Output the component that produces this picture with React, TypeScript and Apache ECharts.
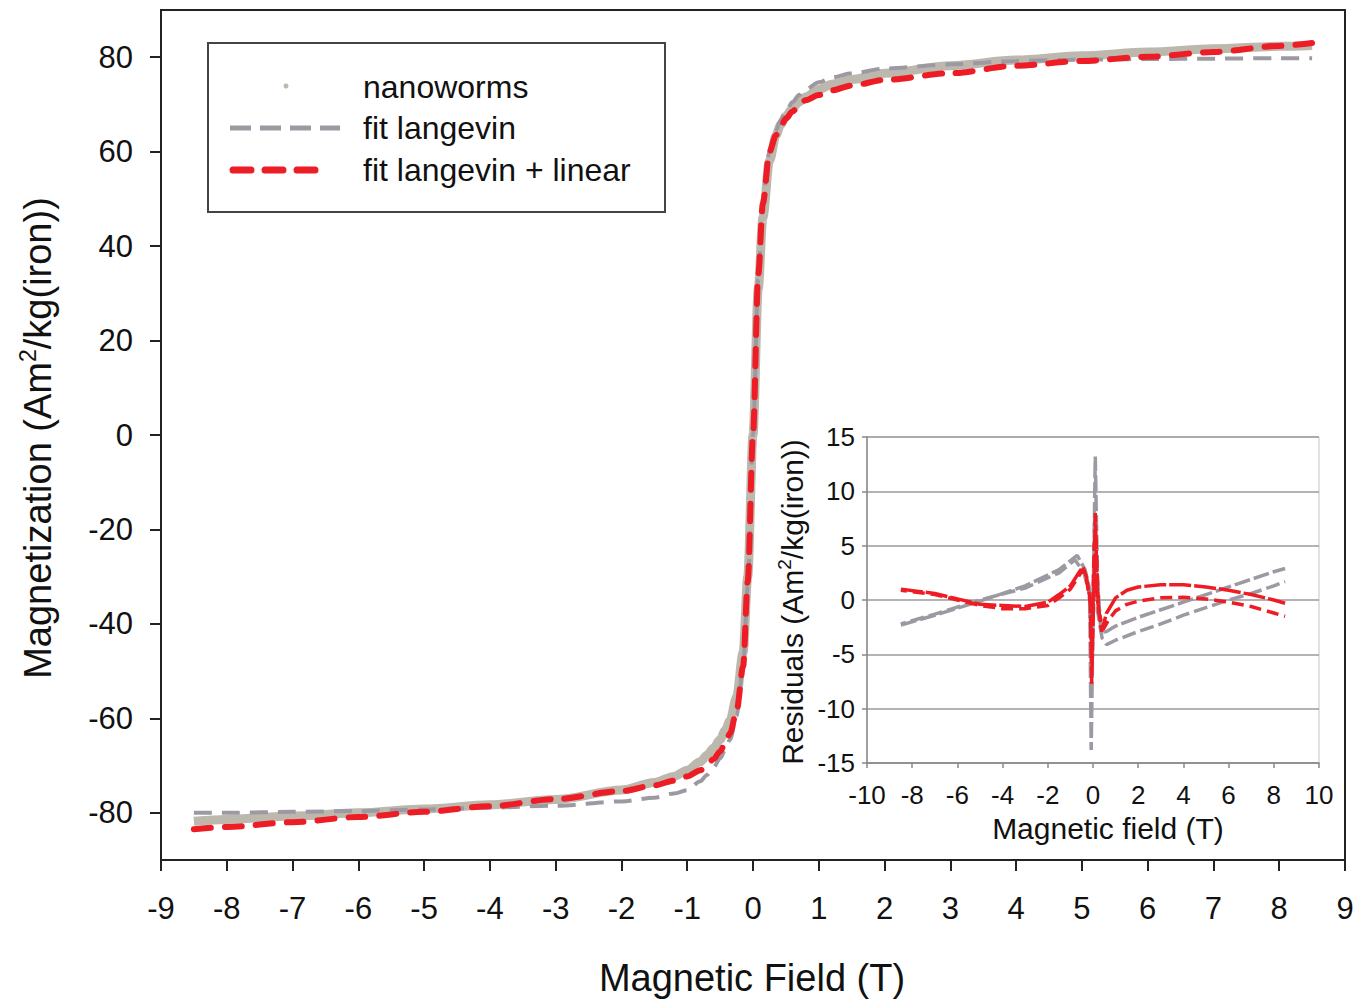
import React, { useEffect, useRef } from "react";
import * as echarts from "echarts";

// ---------- main chart data ----------
const fieldT = [-8.5, -8, -7, -6, -5, -4, -3, -2, -1.5, -1.2, -1, -0.8, -0.7, -0.6, -0.5, -0.42, -0.35, -0.25, -0.15, -0.08, 0, 0.08, 0.15, 0.25, 0.35, 0.42, 0.5, 0.6, 0.7, 0.8, 1, 1.2, 1.5, 2, 3, 4, 5, 6, 7, 8, 8.5];
const nanoworms = [-81.8, -81.4, -80.7, -80.0, -79.2, -78.3, -77.2, -75.2, -73.6, -72.3, -71.0, -69.2, -67.8, -66.3, -64.5, -62.5, -60.5, -55.5, -46, -30, 0, 31, 46, 58, 63.5, 65.7, 67.5, 69.2, 70.5, 71.6, 73.2, 74.3, 75.3, 76.6, 78.2, 79.4, 80.3, 81.1, 81.8, 82.3, 82.5];
const fitLangevin = [-80, -80, -79.8, -79.6, -79.3, -78.9, -78.5, -77.6, -76.8, -75.9, -75.2, -73.3, -72, -70.4, -68.5, -66.6, -64.5, -59.5, -49, -32, 0, 33, 50, 60, 64.5, 66.7, 68.5, 70.5, 72, 73.2, 74.7, 75.7, 76.6, 77.6, 78.5, 79.2, 79.5, 79.6, 79.7, 79.8, 79.8];
const fitLangevinLinear = [-83.5, -83, -82, -80.9, -79.8, -78.6, -77.1, -75.4, -74.2, -73.2, -72.3, -71, -70, -68.6, -67, -65.2, -63.2, -58.5, -49, -31, 0, 34, 49, 60, 63.5, 65.3, 67, 68.5, 69.8, 70.9, 72, 73, 74, 75.2, 76.6, 78.2, 79.2, 80.1, 81.1, 82.4, 83];

const mainYTicks = [-80, -60, -40, -20, 0, 20, 40, 60, 80];

// ---------- inset (residuals) data ----------
const resLangAX = [-8.5, -7, -5, -3, -1.5, -0.7, -0.35, -0.15, -0.08, 0.1, 0.2, 0.35, 0.6, 1, 2, 3, 4, 5, 6, 7, 8, 8.5];
const resLangAY = [-2.3, -1.4, -0.1, 1.3, 2.8, 4.1, 2.8, 1.0, -13.8, 13.2, 2.0, -3.0, -2.9, -2.4, -1.6, -0.9, -0.2, 0.5, 1.2, 1.9, 2.6, 2.9];
const resLangBX = [-8.5, -7, -5, -3, -1.5, -0.8, -0.4, -0.15, -0.05, 0.08, 0.2, 0.4, 0.6, 1, 2, 3, 4, 5, 6, 7, 8, 8.5];
const resLangBY = [-2.2, -1.3, 0.0, 1.1, 2.5, 3.7, 2.5, 0.5, -6, 8, -1, -3.5, -4.1, -3.7, -2.9, -2.2, -1.4, -0.7, 0.0, 0.6, 1.3, 1.7];
const resLinAX = [-8.5, -7, -6, -5, -4, -3, -2, -1.5, -1, -0.6, -0.45, -0.3, -0.12, -0.06, 0.05, 0.1, 0.2, 0.38, 0.6, 1, 1.5, 2, 3, 4, 5, 6, 7, 8, 8.5];
const resLinAY = [1.0, 0.6, 0.1, -0.4, -0.5, -0.6, -0.2, 0.5, 1.3, 2.6, 3.05, 2.2, 0, -7.7, 2, 8, 0, -2.9, -1.2, 0.2, 0.9, 1.2, 1.4, 1.4, 1.2, 0.9, 0.5, 0.0, -0.3];
const resLinBX = [-8.5, -7, -6, -5, -4, -3, -2, -1.5, -1, -0.6, -0.45, -0.3, -0.1, -0.05, 0.05, 0.12, 0.25, 0.45, 0.7, 1, 1.5, 2, 3, 4, 5, 6, 7, 8, 8.5];
const resLinBY = [0.9, 0.5, 0.0, -0.5, -0.8, -0.8, -0.5, 0.2, 1.0, 2.3, 2.8, 2.0, -0.5, -5, 5, 6, -1, -2.7, -1.8, -1.0, -0.4, -0.1, 0.2, 0.25, 0.1, -0.2, -0.6, -1.2, -1.5];

const zip = (xs: number[], ys: number[]) => xs.map((x, i) => [x, ys[i]]);

const FONT = "'Liberation Sans', Arial, Helvetica, sans-serif";
const TAN = "#bdb8ae";
const GRAY = "#9d99a2";
const RED = "#ee1c25";

export default function App() {
  const ref = useRef<HTMLDivElement>(null);
  useEffect(() => {
    if (!ref.current) return;
    const chart = echarts.init(ref.current, null, { renderer: "svg" });
    chart.setOption({
      animation: false,
      backgroundColor: "#ffffff",
      textStyle: { fontFamily: FONT },
      grid: [
        { left: 161, top: 10, width: 1184, height: 850, show: true, borderColor: "#222", borderWidth: 2, backgroundColor: "transparent" },
        { left: 867, top: 437, width: 452, height: 326, show: true, borderColor: "#c4c4c4", borderWidth: 1, backgroundColor: "#ffffff" },
      ],
      xAxis: [
        {
          type: "value", gridIndex: 0, min: -9, max: 9, interval: 1,
          axisLine: { show: true, onZero: false, lineStyle: { color: "#222", width: 2 } },
          axisTick: { show: true, inside: false, length: 11, lineStyle: { color: "#222", width: 2 } },
          axisLabel: { fontSize: 31, color: "#111", margin: 33, fontFamily: FONT },
          splitLine: { show: false },
        },
        {
          type: "value", gridIndex: 1, min: -10, max: 10, interval: 2,
          axisLine: { show: true, onZero: false, lineStyle: { color: "#888", width: 1.5 } },
          axisTick: { show: true, inside: false, length: 5, lineStyle: { color: "#888", width: 1.5 } },
          axisLabel: { fontSize: 26, color: "#111", margin: 19, fontFamily: FONT },
          splitLine: { show: false },
        },
      ],
      yAxis: [
        {
          type: "value", gridIndex: 0, min: -90, max: 90,
          axisLine: { show: true, onZero: false, lineStyle: { color: "#222", width: 2 } },
          axisTick: { show: true, inside: false, length: 11, customValues: mainYTicks, lineStyle: { color: "#222", width: 2 } },
          axisLabel: { fontSize: 31, color: "#111", margin: 28, customValues: mainYTicks, fontFamily: FONT },
          splitLine: { show: false },
        },
        {
          type: "value", gridIndex: 1, min: -15, max: 15, interval: 5,
          axisLine: { show: true, onZero: false, lineStyle: { color: "#888", width: 1.5 } },
          axisTick: { show: true, inside: false, length: 5, lineStyle: { color: "#888", width: 1.5 } },
          axisLabel: { fontSize: 26, color: "#111", margin: 12, fontFamily: FONT },
          splitLine: { show: true, lineStyle: { color: "#9a9a9a", width: 1.5 } },
        },
      ],
      series: [
        {
          name: "nanoworms", type: "line", xAxisIndex: 0, yAxisIndex: 0, data: zip(fieldT, nanoworms),
          showSymbol: false, smooth: 0.3, smoothMonotone: "x", z: 2,
          lineStyle: { color: TAN, width: 9 },
        },
        {
          name: "fit langevin", type: "line", xAxisIndex: 0, yAxisIndex: 0, data: zip(fieldT, fitLangevin),
          showSymbol: false, smooth: 0.3, smoothMonotone: "x", z: 3,
          lineStyle: { color: GRAY, width: 4, type: [18, 10] },
        },
        {
          name: "fit langevin + linear", type: "line", xAxisIndex: 0, yAxisIndex: 0, data: zip(fieldT, fitLangevinLinear),
          showSymbol: false, smooth: 0.3, smoothMonotone: "x", z: 4,
          lineStyle: { color: RED, width: 6, type: [17, 14], cap: "round" },
        },
        {
          name: "res langevin A", type: "line", xAxisIndex: 1, yAxisIndex: 1, data: zip(resLangAX, resLangAY),
          showSymbol: false, z: 3, lineStyle: { color: GRAY, width: 3.5, type: [16, 4] },
        },
        {
          name: "res langevin B", type: "line", xAxisIndex: 1, yAxisIndex: 1, data: zip(resLangBX, resLangBY),
          showSymbol: false, z: 3, lineStyle: { color: GRAY, width: 3.5, type: [14, 5], dashOffset: 9 },
        },
        {
          name: "res linear A", type: "line", xAxisIndex: 1, yAxisIndex: 1, data: zip(resLinAX, resLinAY),
          showSymbol: false, z: 4, lineStyle: { color: RED, width: 3.5, type: [22, 3] },
        },
        {
          name: "res linear B", type: "line", xAxisIndex: 1, yAxisIndex: 1, data: zip(resLinBX, resLinBY),
          showSymbol: false, z: 4, lineStyle: { color: RED, width: 3.5, type: [12, 6], dashOffset: 6 },
        },
      ],
      graphic: [
        // legend
        { type: "rect", z: 10, shape: { x: 208, y: 43, width: 457, height: 169 }, style: { fill: "#fff", stroke: "#444", lineWidth: 2 } },
        { type: "circle", z: 11, shape: { cx: 286, cy: 86, r: 2.5 }, style: { fill: TAN } },
        { type: "line", z: 11, shape: { x1: 230, y1: 128, x2: 340, y2: 128 }, style: { stroke: GRAY, lineWidth: 5, lineDash: [21, 9] } },
        { type: "line", z: 11, shape: { x1: 233, y1: 170, x2: 325, y2: 170 }, style: { stroke: RED, lineWidth: 7, lineDash: [18, 14], lineCap: "round" } },
        { type: "text", z: 11, x: 363, y: 87, style: { text: "nanoworms", fontSize: 32, fontFamily: FONT, fill: "#111", align: "left", verticalAlign: "middle" } },
        { type: "text", z: 11, x: 363, y: 128, style: { text: "fit langevin", fontSize: 32, fontFamily: FONT, fill: "#111", align: "left", verticalAlign: "middle" } },
        { type: "text", z: 11, x: 363, y: 170, style: { text: "fit langevin + linear", fontSize: 32, fontFamily: FONT, fill: "#111", align: "left", verticalAlign: "middle" } },
        // main axis titles
        { type: "text", z: 11, x: 752, y: 978, style: { text: "Magnetic Field (T)", fontSize: 38, fontFamily: FONT, fill: "#111", align: "center", verticalAlign: "middle" } },
        {
          type: "text", z: 11, x: 38, y: 438, rotation: Math.PI / 2,
          style: {
            text: "{a|Magnetization (Am}{s|2}{a|/kg(iron))}", fontFamily: FONT, fill: "#111", align: "center", verticalAlign: "middle",
            rich: { a: { fontSize: 38, lineHeight: 44, fontFamily: FONT, fill: "#111" }, s: { fontSize: 23, lineHeight: 23, verticalAlign: "top", fontFamily: FONT, fill: "#111" } },
          },
        },
        // inset axis titles
        { type: "text", z: 11, x: 1108, y: 828, style: { text: "Magnetic field (T)", fontSize: 30, fontFamily: FONT, fill: "#111", align: "center", verticalAlign: "middle" } },
        {
          type: "text", z: 11, x: 792, y: 602, rotation: Math.PI / 2,
          style: {
            text: "{a|Residuals (Am}{s|2}{a|/kg(iron))}", fontFamily: FONT, fill: "#111", align: "center", verticalAlign: "middle",
            rich: { a: { fontSize: 30, lineHeight: 35, fontFamily: FONT, fill: "#111" }, s: { fontSize: 19, lineHeight: 19, verticalAlign: "top", fontFamily: FONT, fill: "#111" } },
          },
        },
      ],
    });
    return () => chart.dispose();
  }, []);
  return <div ref={ref} style={{ position: "fixed", left: 0, top: 0, width: 1371, height: 1005 }} />;
}
